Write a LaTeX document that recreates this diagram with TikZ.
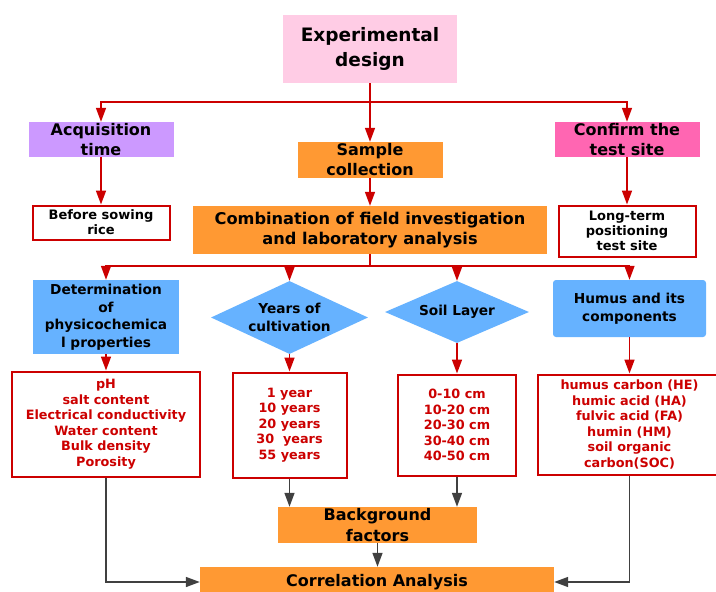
\documentclass[tikz,border=0pt]{standalone}
\usepackage{fontspec}
\setmainfont{DejaVu Sans}
\usetikzlibrary{shapes.geometric,arrows.meta}
\definecolor{redc}{HTML}{CC0000}
\definecolor{grayc}{HTML}{404040}
\definecolor{pinkA}{HTML}{FFCCE5}
\definecolor{purpA}{HTML}{CC99FF}
\definecolor{orgA}{HTML}{FF9933}
\definecolor{pinkB}{HTML}{FF66B2}
\definecolor{blueA}{HTML}{66B2FF}
\tikzset{
  box/.style={rectangle, inner sep=0pt, align=center, font=\bfseries},
  fillbox/.style={box, draw=none},
  redbox/.style={box, draw=redc, line width=2pt, fill=white},
  dia/.style={diamond, aspect=2.1, inner sep=0pt, fill=blueA, align=center, font=\bfseries},
  rarr/.style={draw=redc, line width=1.6pt, -{Triangle[length=14pt,width=10pt]}},
  rline/.style={draw=redc, line width=1.6pt},
  garr/.style={draw=grayc, line width=1.6pt, -{Triangle[length=14pt,width=10pt]}},
  listtxt/.style={text=redc, font=\bfseries\fontsize{12.8}{15.5}\selectfont},
  midfont/.style={font=\bfseries\fontsize{13.7}{17.5}\selectfont},
}
\begin{document}
\begin{tikzpicture}[x=1pt,y=-1pt]
\useasboundingbox (0,0) rectangle (716,592);
\begin{scope}
\clip (0,0) rectangle (716,592);
% top level
\node[fillbox, fill=pinkA, minimum width=174pt, minimum height=68pt, font=\bfseries\fontsize{18.5}{24.3}\selectfont] (exp) at (370,49) {Experimental\\design};
\node[fillbox, fill=purpA, minimum width=145pt, minimum height=35pt, font=\bfseries\fontsize{16}{20}\selectfont] (acq) at (101,139.5) {Acquisition\\time};
\node[fillbox, fill=orgA, minimum width=145pt, minimum height=36pt, font=\bfseries\fontsize{16}{20}\selectfont] (samp) at (370,160) {Sample\\collection};
\node[fillbox, fill=pinkB, minimum width=145pt, minimum height=35pt, font=\bfseries\fontsize{16}{20}\selectfont] (conf) at (627,139.5) {Confirm the\\test site};
% second level
\node[redbox, minimum width=137pt, minimum height=34pt, font=\bfseries\fontsize{13}{15}\selectfont] (bef) at (101,222.5) {Before sowing\\rice};
\node[fillbox, fill=orgA, minimum width=354pt, minimum height=48pt, font=\bfseries\fontsize{16.2}{20}\selectfont] (comb) at (370,230) {Combination of field investigation\\and laboratory analysis};
\node[redbox, minimum width=137pt, minimum height=51pt, font=\bfseries\fontsize{13}{15.3}\selectfont] (long) at (627,231) {Long-term\\positioning\\test site};
% third level
\node[fillbox, fill=blueA, minimum width=146pt, minimum height=74pt, midfont] (det) at (106,317) {Determination\\of\\physicochemica\\l properties};
\node[dia, minimum width=157pt, minimum height=73pt, midfont] (yrs) at (289.5,317.5) {Years of\\cultivation};
\node[dia, minimum width=144pt, minimum height=62pt, midfont] (soil) at (457,312) {Soil Layer};
\node[fillbox, fill=blueA, rounded corners=3pt, minimum width=153pt, minimum height=57pt, midfont] (hum) at (629.5,308.5) {Humus and its\\components};
% lists
\node[redbox, minimum width=188pt, minimum height=105pt, listtxt] (phb) at (106,424) {pH\\salt content\\Electrical conductivity\\Water content\\Bulk density\\Porosity};
\node[redbox, minimum width=114pt, minimum height=105pt, listtxt] (yrb) at (289.5,425) {1 year\\10 years\\20 years\\30\ \ years\\55 years};
\node[redbox, minimum width=118pt, minimum height=101pt, listtxt] (slb) at (457,425) {0-10 cm\\10-20 cm\\20-30 cm\\30-40 cm\\40-50 cm};
\node[redbox, minimum width=183pt, minimum height=100pt, listtxt] (hmb) at (629.5,424.5) {humus carbon (HE)\\humic acid (HA)\\fulvic acid (FA)\\humin (HM)\\soil organic\\carbon(SOC)};
% bottom
\node[fillbox, fill=orgA, minimum width=199pt, minimum height=36pt, font=\bfseries\fontsize{16}{20.7}\selectfont] (bg) at (377.5,525) {Background\\factors};
\node[fillbox, fill=orgA, minimum width=354pt, minimum height=30pt, font=\bfseries\fontsize{16}{20}\selectfont] (corr) at (377,582) {Correlation Analysis};
\end{scope}
% red connectors
\coordinate (j1) at (370,102);
\coordinate (j1l) at (acq.north |- j1);
\coordinate (j1r) at (conf.north |- j1);
\draw[rarr] (exp.south) -- (samp.north);
\draw[rarr] (j1) -- (j1l) -- (acq.north);
\draw[rarr] (j1) -- (j1r) -- (conf.north);
\draw[rarr] (acq.south) -- (bef.north);
\draw[rarr] (samp.south) -- (comb.north);
\draw[rarr] (conf.south) -- (long.north);
\coordinate (j2) at (370,266);
\draw[rline] (comb.south) -- (j2);
\draw[rarr] (j2) -- (det.north |- j2) -- (det.north);
\draw[rarr] (j2) -- (yrs.north |- j2) -- (yrs.north);
\draw[rarr] (j2) -- (soil.north |- j2) -- (soil.north);
\draw[rarr] (j2) -- (hum.north |- j2) -- (hum.north);
\draw[rarr] (det.south) -- (phb.north);
\draw[rarr] (yrs.south) -- (yrb.north);
\draw[rarr] (soil.south) -- (slb.north);
\draw[rarr] (hum.south) -- (hmb.north);
% gray connectors
\draw[garr] (yrb.south) -- (yrb.south |- bg.north);
\draw[garr] (slb.south) -- (slb.south |- bg.north);
\draw[garr] (bg.south) -- (bg.south |- corr.north);
\draw[garr] (phb.south) -- (phb.south |- corr.west) -- (corr.west);
\draw[garr] (hmb.south) -- (hmb.south |- corr.east) -- (corr.east);
\end{tikzpicture}
\end{document}
